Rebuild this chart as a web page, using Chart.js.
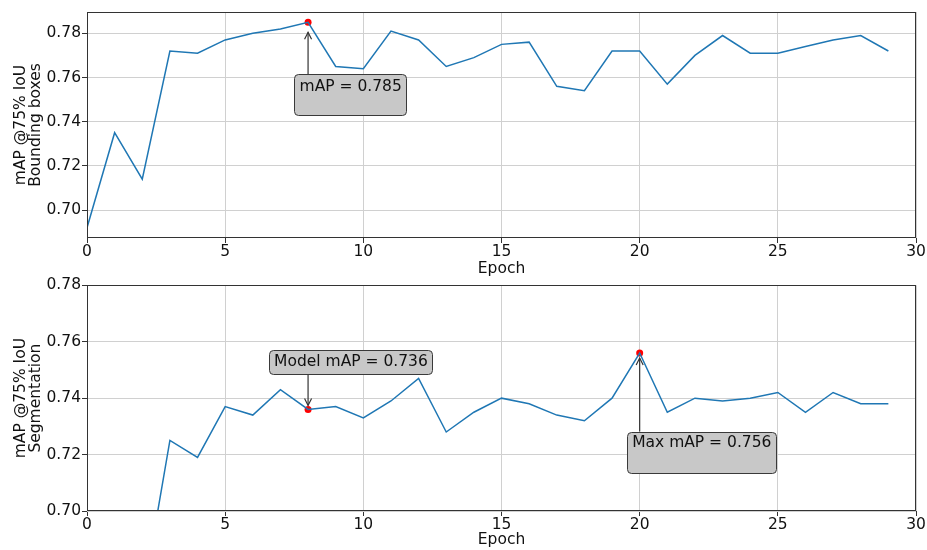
<!DOCTYPE html>
<html><head><meta charset="utf-8">
<script src="https://cdn.jsdelivr.net/npm/chart.js@4.4.1/dist/chart.umd.min.js"></script>
<style>
html,body{margin:0;padding:0;background:#fff;}
#wrap{position:relative;width:927px;height:550px;overflow:hidden;background:#fff;}
#c1{position:absolute;left:0;top:0;}
#c2{position:absolute;left:0;top:275px;}
</style></head><body>
<div id="wrap"><canvas id="c1" width="927" height="290"></canvas><canvas id="c2" width="927" height="275"></canvas></div>
<script>
// ---- data ----
const epochs = [0,1,2,3,4,5,6,7,8,9,10,11,12,13,14,15,16,17,18,19,20,21,22,23,24,25,26,27,28,29];
const bboxMAP = [0.692,0.735,0.714,0.772,0.771,0.777,0.780,0.782,0.785,0.765,0.764,0.781,0.777,0.765,0.769,0.775,0.776,0.756,0.754,0.772,0.772,0.757,0.770,0.779,0.771,0.771,0.774,0.777,0.779,0.772];
const segMAP  = [0.650,0.690,0.668,0.725,0.719,0.737,0.734,0.743,0.736,0.737,0.733,0.739,0.747,0.728,0.735,0.740,0.738,0.734,0.732,0.740,0.756,0.735,0.740,0.739,0.740,0.742,0.735,0.742,0.738,0.738];
const xTicks = [0,5,10,15,20,25,30];
const bboxYTicks = [0.70,0.72,0.74,0.76,0.78];
const segYTicks = [0.70,0.72,0.74,0.76,0.78];
const xLabel = 'Epoch';
const bboxYLabel = ['mAP @75% IoU','Bounding boxes'];
const segYLabel = ['mAP @75% IoU','Segmentation'];
const bboxBestEpoch = 8;
const segModelEpoch = 8;
const segMaxEpoch = 20;
const bboxBestText = 'mAP = 0.785';
const segModelText = 'Model mAP = 0.736';
const segMaxText = 'Max mAP = 0.756';

// ---- style ----
const FONT = 'DejaVu Sans';
const FS = 15.5;
const LINE = '#1f77b4';
const DARK = '#333333';
const GRID = '#d0d0d0';

const framePlugin = {
  id: 'frame',
  afterDraw(chart) {
    const {ctx, chartArea: a} = chart;
    ctx.save();
    ctx.strokeStyle = DARK; ctx.lineWidth = 1;
    const l = Math.round(a.left) + 0.5, t = Math.round(a.top) + 0.5;
    const r = Math.round(a.right) - 0.5, b = Math.round(a.bottom) - 0.5;
    ctx.strokeRect(l, t, r - l, b - t);
    ctx.restore();
  }
};

const annotPlugin = {
  id: 'annot',
  afterDatasetsDraw(chart, args, opts) {
    const ctx = chart.ctx;
    const xs = chart.scales.x, ys = chart.scales.y;
    for (const a of (opts.items || [])) {
      const px = xs.getPixelForValue(a.x), py = ys.getPixelForValue(a.y);
      const bx = px + a.dx, by = py + a.dy;
      const below = a.dy > 0;
      const fromY = below ? by : by + a.h;
      const tipY = below ? py + a.gap : py - a.gap;
      ctx.save();
      ctx.strokeStyle = DARK; ctx.lineWidth = 1.2;
      ctx.beginPath(); ctx.moveTo(px, fromY); ctx.lineTo(px, tipY); ctx.stroke();
      const d = below ? 1 : -1;
      ctx.beginPath();
      ctx.moveTo(px - 3.5, tipY + d * 7); ctx.lineTo(px, tipY); ctx.lineTo(px + 3.5, tipY + d * 7);
      ctx.stroke();
      // box
      ctx.beginPath();
      ctx.roundRect(Math.round(bx) + 0.5, Math.round(by) + 0.5, a.w, a.h, 4);
      ctx.fillStyle = '#c8c8c8'; ctx.fill();
      ctx.strokeStyle = '#3a3a3a'; ctx.lineWidth = 1; ctx.stroke();
      ctx.fillStyle = '#111';
      ctx.font = a.size + 'px "' + FONT + '"';
      ctx.textBaseline = 'middle'; ctx.textAlign = 'left';
      ctx.fillText(a.text, bx + a.tx, by + a.ty);
      ctx.restore();
    }
  }
};

function makeChart(id, values, yTicks, yLabel, yMin, yMax, cfg) {
  const pts = epochs.map((e, i) => ({x: e, y: values[i]}));
  const marks = cfg.marks.map(e => ({x: e, y: values[epochs.indexOf(e)]}));
  return new Chart(document.getElementById(id), {
    type: 'line',
    data: {
      datasets: [
        {data: pts, borderColor: LINE, borderWidth: 1.5, pointRadius: 0, tension: 0, clip: 0, fill: false},
        {data: marks, showLine: false, pointRadius: 3.5, pointBackgroundColor: '#ff0000', pointBorderWidth: 0, borderColor: '#ff0000', clip: 0}
      ]
    },
    options: {
      responsive: false, animation: false, devicePixelRatio: 1, events: [],
      layout: {padding: {top: cfg.padTop, right: 11, bottom: 0, left: 0}},
      plugins: {legend: {display: false}, tooltip: {enabled: false},
        annot: {items: cfg.annots}},
      scales: {
        x: {
          type: 'linear', min: 0, max: 30,
          afterBuildTicks: ax => { ax.ticks = xTicks.map(v => ({value: v})); },
          afterFit: ax => { ax.height = cfg.xHeight; },
          grid: {color: GRID, lineWidth: 1, tickColor: DARK, tickLength: 5, drawTicks: true},
          border: {display: false},
          ticks: {padding: 0, color: '#111', font: {family: FONT, size: FS}, maxRotation: 0, callback: v => String(v)},
          title: {display: true, text: xLabel, color: '#111', font: {family: FONT, size: FS, lineHeight: 1.2}, padding: {top: 0, bottom: cfg.xTitlePad}}
        },
        y: {
          type: 'linear', min: yMin, max: yMax,
          afterBuildTicks: ax => { ax.ticks = yTicks.map(v => ({value: v})); },
          afterFit: ax => { ax.width = 87; },
          grid: {color: GRID, lineWidth: 1, tickColor: DARK, tickLength: 5, drawTicks: true},
          border: {display: false},
          ticks: {padding: 1, color: '#111', font: {family: FONT, size: FS}, callback: v => v.toFixed(2)},
          title: {display: true, text: yLabel, color: '#111', font: {family: FONT, size: FS, lineHeight: 1.0}, padding: {top: 13, bottom: 0}}
        }
      }
    },
    plugins: [annotPlugin, framePlugin]
  });
}

const bMin = Math.min(...bboxMAP), bMax = Math.max(...bboxMAP), bR = bMax - bMin;
makeChart('c1', bboxMAP, bboxYTicks, bboxYLabel, bMin - 0.05 * bR, bMax + 0.05 * bR, {
  padTop: 12, xHeight: 52, xTitlePad: 11.5,
  marks: [bboxBestEpoch],
  annots: [{x: bboxBestEpoch, y: bboxMAP[epochs.indexOf(bboxBestEpoch)], text: bboxBestText, size: FS,
            dx: -14, dy: 52, w: 112, h: 41, tx: 5.5, ty: 13, gap: 10}]
});
makeChart('c2', segMAP, segYTicks, segYLabel, 0.70, 0.78, {
  padTop: 9, xHeight: 39, xTitlePad: 1,
  marks: [segModelEpoch, segMaxEpoch],
  annots: [
    {x: segModelEpoch, y: segMAP[epochs.indexOf(segModelEpoch)], text: segModelText, size: FS,
     dx: -39, dy: -59.5, w: 163, h: 24, tx: 5, ty: 12, gap: 4},
    {x: segMaxEpoch, y: segMAP[epochs.indexOf(segMaxEpoch)], text: segMaxText, size: FS,
     dx: -13, dy: 78.5, w: 149, h: 41, tx: 5.5, ty: 11.5, gap: 5}
  ]
});
</script>
</body></html>
